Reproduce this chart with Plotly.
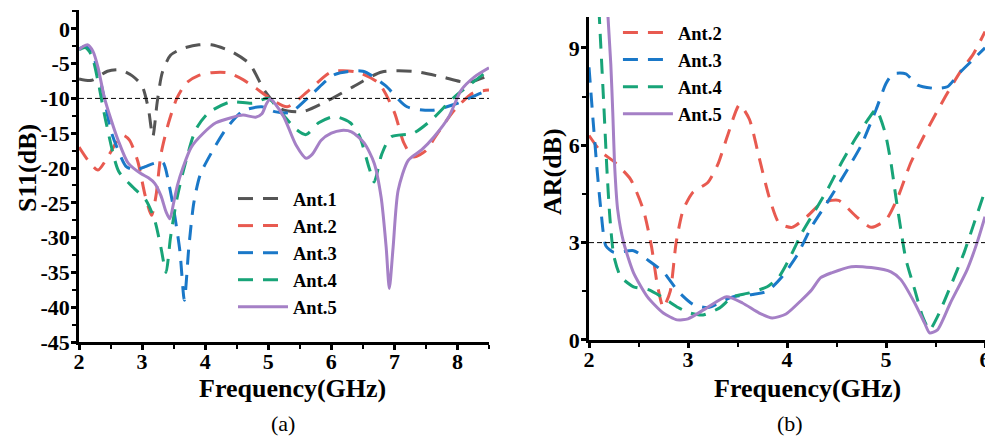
import plotly.graph_objects as go
from plotly.subplots import make_subplots

# ---------------- Panel (a): S11 ----------------
a1_f = [2.0, 2.2, 2.45, 2.65, 2.85, 3.0, 3.1, 3.17, 3.24, 3.32, 3.45, 3.65, 3.9, 4.1, 4.4, 4.7, 4.95, 5.2, 5.55, 5.95, 6.35, 6.8, 7.3, 7.75, 8.15, 8.5]
a1_s = [-7.2, -7.4, -6.1, -5.9, -6.8, -8.2, -11.5, -15.5, -10.5, -6.3, -3.8, -2.8, -2.3, -2.3, -3.2, -5.0, -9.0, -11.5, -11.9, -10.3, -8.3, -6.2, -6.1, -6.9, -7.7, -6.7]

a2_f = [2.0, 2.15, 2.3, 2.45, 2.6, 2.7, 2.8, 2.93, 3.05, 3.15, 3.22, 3.3, 3.42, 3.55, 3.7, 3.9, 4.1, 4.35, 4.6, 4.8, 5.0, 5.3, 5.65, 6.0, 6.4, 6.75, 7.0, 7.15, 7.3, 7.5, 7.65, 7.95, 8.25, 8.5]
a2_s = [-17.0, -19.0, -20.3, -18.5, -16.2, -15.3, -16.0, -19.0, -24.0, -26.8, -24.0, -18.0, -13.5, -10.0, -7.8, -6.7, -6.3, -6.3, -7.3, -8.5, -9.8, -11.2, -8.8, -6.2, -6.2, -7.8, -12.0, -16.4, -18.4, -17.5, -15.5, -11.7, -9.2, -8.8]

a3_f = [2.0, 2.1, 2.2, 2.3, 2.4, 2.5, 2.6, 2.75, 2.9, 3.05, 3.2, 3.33, 3.43, 3.52, 3.6, 3.67, 3.74, 3.82, 3.92, 4.1, 4.33, 4.6, 4.9, 5.1, 5.35, 5.7, 6.05, 6.5, 6.85, 7.2, 7.6, 8.0, 8.35, 8.5]
a3_s = [-2.9, -2.5, -3.5, -6.0, -10.0, -14.5, -17.0, -19.8, -20.3, -19.8, -19.3, -19.2, -22.5, -27.0, -32.0, -39.0, -31.5, -25.0, -21.0, -17.8, -14.4, -11.8, -11.2, -11.9, -12.0, -9.3, -6.6, -6.1, -8.1, -11.2, -11.7, -10.7, -9.3, -8.8]

a4_f = [2.0, 2.1, 2.2, 2.3, 2.43, 2.63, 2.86, 3.06, 3.2, 3.3, 3.38, 3.45, 3.55, 3.68, 3.85, 4.05, 4.4, 4.75, 5.0, 5.2, 5.45, 5.6, 5.8, 6.05, 6.3, 6.45, 6.6, 6.68, 6.8, 6.95, 7.3, 7.6, 7.95, 8.3, 8.5]
a4_s = [-3.0, -2.7, -3.8, -7.5, -13.5, -20.5, -22.8, -24.6, -27.5, -31.5, -35.0, -30.0, -24.5, -19.5, -14.5, -12.1, -10.5, -10.7, -10.0, -12.0, -14.5, -15.2, -13.5, -12.6, -13.5, -15.5, -20.0, -22.0, -18.0, -15.5, -15.0, -13.0, -9.8, -7.3, -5.9]

a5_f = [2.0, 2.07, 2.14, 2.22, 2.3, 2.4, 2.51, 2.62, 2.78, 2.98, 3.1, 3.2, 3.3, 3.38, 3.44, 3.5, 3.56, 3.65, 3.78, 3.97, 4.17, 4.44, 4.6, 4.8, 4.9, 4.97, 5.03, 5.12, 5.25, 5.44, 5.6, 5.7, 5.84, 6.0, 6.16, 6.32, 6.52, 6.68, 6.79, 6.87, 6.92, 6.98, 7.06, 7.22, 7.43, 7.63, 7.86, 8.06, 8.27, 8.5]
a5_s = [-3.0, -2.5, -2.3, -3.2, -5.5, -9.8, -13.1, -16.0, -19.3, -20.8, -21.4, -22.2, -24.0, -26.3, -27.3, -25.0, -22.5, -19.9, -17.0, -15.0, -13.5, -12.7, -12.4, -12.7, -12.2, -10.8, -10.1, -10.9, -12.7, -16.7, -18.6, -18.0, -16.0, -15.0, -14.6, -14.8, -16.4, -19.3, -24.2, -31.4, -37.3, -31.4, -23.2, -18.9, -17.4, -15.5, -12.7, -8.8, -6.9, -5.6]

# ---------------- Panel (b): AR ----------------
b2_f = [2.0, 2.12, 2.25, 2.42, 2.55, 2.63, 2.69, 2.75, 2.82, 2.88, 2.95, 3.05, 3.2, 3.3, 3.4, 3.52, 3.62, 3.72, 3.82, 3.92, 4.05, 4.2, 4.35, 4.52, 4.7, 4.85, 5.0, 5.12, 5.25, 5.42, 5.6, 5.75, 5.88, 6.0]
b2_a = [6.3, 5.8, 5.5, 4.95, 4.0, 2.9, 1.7, 1.0, 1.5, 3.0, 4.0, 4.55, 4.85, 5.4, 6.3, 7.25, 6.8, 5.6, 4.4, 3.6, 3.47, 3.8, 4.22, 4.3, 3.8, 3.47, 3.7, 4.4, 5.46, 6.5, 7.5, 8.26, 8.8, 9.5]

b3_f = [2.0, 2.04, 2.08, 2.12, 2.17, 2.25, 2.45, 2.6, 2.75, 2.9, 3.05, 3.2, 3.45, 3.65, 3.8, 3.95, 4.1, 4.25, 4.42, 4.6, 4.75, 4.9, 5.0, 5.07, 5.2, 5.32, 5.5, 5.62, 5.75, 5.9, 6.0]
b3_a = [8.4, 6.8, 5.3, 4.0, 2.9, 2.7, 2.75, 2.45, 2.1, 1.5, 1.1, 1.0, 1.33, 1.4, 1.5, 1.95, 2.6, 3.5, 4.3, 5.2, 6.0, 7.1, 7.9, 8.2, 8.2, 7.85, 7.75, 7.8, 8.25, 8.7, 9.0]

b4_f = [2.1, 2.12, 2.15, 2.18, 2.21, 2.25, 2.32, 2.45, 2.6, 2.75, 2.9, 3.02, 3.15, 3.32, 3.45, 3.62, 3.8, 3.92, 4.02, 4.15, 4.29, 4.42, 4.55, 4.69, 4.82, 4.9, 4.99, 5.05, 5.1, 5.15, 5.2, 5.29, 5.37, 5.44, 5.52, 5.65, 5.79, 5.89, 6.0]
b4_a = [10.2, 9.0, 7.2, 5.3, 3.8, 2.6, 1.95, 1.64, 1.55, 1.3, 1.0, 0.83, 0.77, 0.99, 1.33, 1.45, 1.64, 1.95, 2.48, 3.3, 4.02, 4.7, 5.46, 6.2, 6.8, 7.1, 6.4, 5.46, 4.4, 3.4, 2.5, 1.55, 0.72, 0.31, 0.72, 1.64, 2.7, 3.6, 4.6]

b5_f = [2.185, 2.22, 2.24, 2.26, 2.29, 2.35, 2.45, 2.59, 2.75, 2.89, 3.0, 3.19, 3.39, 3.55, 3.72, 3.85, 3.99, 4.15, 4.25, 4.34, 4.45, 4.65, 4.85, 5.05, 5.15, 5.29, 5.39, 5.44, 5.52, 5.65, 5.82, 5.92, 6.0]
b5_a = [10.3, 8.5, 7.0, 5.3, 4.0, 3.0, 2.07, 1.33, 0.83, 0.62, 0.65, 0.99, 1.33, 1.14, 0.83, 0.68, 0.8, 1.24, 1.55, 1.92, 2.07, 2.26, 2.23, 2.1, 1.86, 1.14, 0.52, 0.22, 0.31, 1.14, 2.17, 3.0, 3.8]

THRESH_A = -10
THRESH_B = 3

a_xticks = [2, 3, 4, 5, 6, 7, 8]
a_yticks = [0, -5, -10, -15, -20, -25, -30, -35, -40, -45]
a_yticktext = ["0", "-5", "-10", "-15", "-20", "-25", "-30", "-35", "-40", "-45"]
b_xticks = [2, 3, 4, 5, 6]
b_yticks = [0, 3, 6, 9]

names = ["Ant.1", "Ant.2", "Ant.3", "Ant.4", "Ant.5"]
colors = ["#555555", "#e85a50", "#1a78c8", "#18a478", "#a580c6"]
DASH = "15px,10px"
LW = 3

fig = make_subplots(rows=1, cols=2)

a_data = [(a1_f, a1_s), (a2_f, a2_s), (a3_f, a3_s), (a4_f, a4_s), (a5_f, a5_s)]
for i, (fx, fy) in enumerate(a_data):
    fig.add_trace(go.Scatter(
        x=fx, y=fy, mode="lines", name=names[i],
        line=dict(color=colors[i], width=LW, dash="solid" if i == 4 else DASH,
                  shape="spline", smoothing=0.7),
        legend="legend"), row=1, col=1)

b_data = [(b2_f, b2_a), (b3_f, b3_a), (b4_f, b4_a), (b5_f, b5_a)]
for j, (fx, fy) in enumerate(b_data):
    i = j + 1
    fig.add_trace(go.Scatter(
        x=fx, y=fy, mode="lines", name=names[i],
        line=dict(color=colors[i], width=LW, dash="solid" if i == 4 else DASH,
                  shape="spline", smoothing=0.6),
        legend="legend2"), row=1, col=2)

fig.add_hline(y=THRESH_A, line=dict(color="black", width=1, dash="5px,3px"), row=1, col=1)
fig.add_hline(y=THRESH_B, line=dict(color="black", width=1, dash="5px,3px"), row=1, col=2)

FONT = "Liberation Serif"
tickfont = dict(family=FONT, size=22, color="black", weight="bold")
axis_common = dict(showline=True, linecolor="black", linewidth=2.5, ticks="outside",
                   ticklen=5, tickwidth=2.5, tickcolor="black", showgrid=False,
                   zeroline=False, tickfont=tickfont, mirror=False, automargin=False,
                   ticklabeloverflow="allow")

fig.update_xaxes(ticklabelstandoff=-7, **axis_common)
fig.update_yaxes(ticklabelstandoff=-3, **axis_common)

minor_x = dict(ticks="outside", ticklen=4, tickwidth=2, tickcolor="black", dtick=0.5)
W, H = 977, 429
fig.update_layout(
    xaxis=dict(domain=[0.0727, 0.4923], range=[2, 8.5], tickvals=a_xticks, minor=minor_x),
    yaxis=dict(domain=[0.2214, 0.9953], range=[-45, 2.7], tickvals=a_yticks, ticktext=a_yticktext,
               minor=dict(ticks="outside", ticklen=4, tickwidth=2, tickcolor="black", dtick=2.5)),
    xaxis2=dict(domain=[0.5947, 1.0], range=[2, 6], tickvals=b_xticks, minor=minor_x),
    yaxis2=dict(domain=[0.2261, 0.979], range=[0, 9.95], tickvals=b_yticks,
                minor=dict(ticks="outside", ticklen=4, tickwidth=2, tickcolor="black", dtick=1.5)),
    width=W, height=H,
    margin=dict(l=0, r=0, t=0, b=0, autoexpand=False),
    paper_bgcolor="white", plot_bgcolor="white",
    showlegend=True,
    legend=dict(x=0.2303, y=0.599, xanchor="left", yanchor="top", bgcolor="rgba(0,0,0,0)",
                font=dict(family=FONT, size=18.5, color="black", weight="bold"),
                itemwidth=50, tracegroupgap=0),
    legend2=dict(x=0.6243, y=0.986, xanchor="left", yanchor="top", bgcolor="rgba(0,0,0,0)",
                 font=dict(family=FONT, size=18.5, color="black", weight="bold"),
                 itemwidth=50, tracegroupgap=0),
)

ann_font_b = dict(family=FONT, size=26, color="black", weight="bold")
ann_font_r = dict(family=FONT, size=22, color="black")
fig.add_annotation(text="S11(dB)", x=0.0194, y=0.627, xref="paper", yref="paper",
                   textangle=-90, showarrow=False, font=ann_font_b, xanchor="center", yanchor="middle")
fig.add_annotation(text="AR(dB)", x=0.5568, y=0.620, xref="paper", yref="paper",
                   textangle=-90, showarrow=False, font=ann_font_b, xanchor="center", yanchor="middle")
fig.add_annotation(text="Frequency(GHz)", x=0.2917, y=0.1142, xref="paper", yref="paper",
                   showarrow=False, font=ann_font_b, xanchor="center", yanchor="middle")
fig.add_annotation(text="Frequency(GHz)", x=0.8188, y=0.1142, xref="paper", yref="paper",
                   showarrow=False, font=ann_font_b, xanchor="center", yanchor="middle")
fig.add_annotation(text="(a)", x=0.2815, y=0.031, xref="paper", yref="paper",
                   showarrow=False, font=ann_font_r, xanchor="center", yanchor="middle")
fig.add_annotation(text="(b)", x=0.8004, y=0.031, xref="paper", yref="paper",
                   showarrow=False, font=ann_font_r, xanchor="center", yanchor="middle")

fig.write_html("out.html")
